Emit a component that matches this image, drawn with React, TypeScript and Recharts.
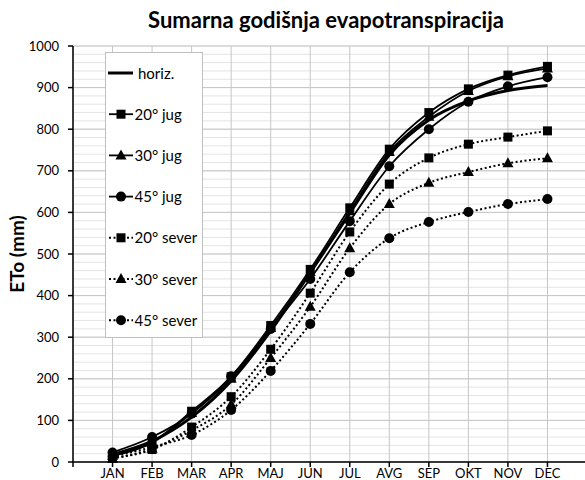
import React from 'react';
import { LineChart, Line, XAxis, YAxis, CartesianGrid } from 'recharts';

const months = ['JAN', 'FEB', 'MAR', 'APR', 'MAJ', 'JUN', 'JUL', 'AVG', 'SEP', 'OKT', 'NOV', 'DEC'];
const horiz = [18, 50, 108, 195, 315, 455, 598, 738, 822, 868, 893, 905];
const jug20 = [16, 48, 122, 205, 328, 463, 611, 752, 840, 897, 930, 951];
const jug30 = [15, 46, 118, 200, 322, 457, 603, 745, 830, 892, 927, 946];
const jug45 = [23, 60, 116, 206, 320, 440, 579, 711, 800, 866, 903, 925];
const sever20 = [10, 30, 84, 157, 271, 406, 553, 668, 731, 764, 781, 796];
const sever30 = [8, 32, 76, 138, 250, 373, 514, 620, 671, 697, 718, 730];
const sever45 = [13, 36, 65, 125, 219, 332, 456, 538, 577, 601, 620, 632];

const xTicks = [0, 1, 2, 3, 4, 5, 6, 7, 8, 9, 10, 11, 12];
const yTicks = [0, 100, 200, 300, 400, 500, 600, 700, 800, 900, 1000];
const yMinor = [0, 20, 40, 60, 80, 100, 120, 140, 160, 180, 200, 220, 240, 260, 280, 300, 320, 340, 360, 380, 400, 420, 440, 460, 480, 500, 520, 540, 560, 580, 600, 620, 640, 660, 680, 700, 720, 740, 760, 780, 800, 820, 840, 860, 880, 900, 920, 940, 960, 980, 1000];

const data = months.map((m, i) => ({
  x: i + 1,
  horiz: horiz[i],
  jug20: jug20[i],
  jug30: jug30[i],
  jug45: jug45[i],
  sever20: sever20[i],
  sever30: sever30[i],
  sever45: sever45[i],
}));

const FONT = 'Lato, "Open Sans", sans-serif';

const SquareDot = (p: any) => {
  const { cx, cy } = p;
  if (cx == null || cy == null) return null;
  return <rect key={p.key} x={cx - 4.5} y={cy - 4.5} width={9} height={9} fill="#000" />;
};
const TriDot = (p: any) => {
  const { cx, cy } = p;
  if (cx == null || cy == null) return null;
  return <polygon key={p.key} points={`${cx},${cy - 6} ${cx + 5.5},${cy + 4} ${cx - 5.5},${cy + 4}`} fill="#000" />;
};
const CircDot = (p: any) => {
  const { cx, cy } = p;
  if (cx == null || cy == null) return null;
  return <circle key={p.key} cx={cx} cy={cy} r={5} fill="#000" />;
};

const legendItems = [
  { label: 'horiz.', kind: 'none', dashed: false },
  { label: '20° jug', kind: 'square', dashed: false },
  { label: '30° jug', kind: 'tri', dashed: false },
  { label: '45° jug', kind: 'circle', dashed: false },
  { label: '20° sever', kind: 'square', dashed: true },
  { label: '30° sever', kind: 'tri', dashed: true },
  { label: '45° sever', kind: 'circle', dashed: true },
];

const LegendBox = () => (
  <div
    style={{
      position: 'absolute',
      left: 105,
      top: 52,
      width: 98,
      height: 286,
      background: '#fff',
      border: '1px solid #bfbfbf',
      boxSizing: 'border-box',
    }}
  >
    <svg width={98} height={286} style={{ position: 'absolute', left: -1, top: -1 }}>
      {legendItems.map((it, i) => {
        const cy = 21 + i * 41.2;
        const mx = 16;
        let marker: any = null;
        if (it.kind === 'square') marker = <rect x={mx - 4.5} y={cy - 4.5} width={9} height={9} fill="#000" />;
        if (it.kind === 'tri') marker = <polygon points={`${mx},${cy - 6} ${mx + 5.5},${cy + 4} ${mx - 5.5},${cy + 4}`} fill="#000" />;
        if (it.kind === 'circle') marker = <circle cx={mx} cy={cy} r={5} fill="#000" />;
        return (
          <g key={it.label}>
            <line
              x1={it.kind === 'none' ? 3 : 4}
              x2={28}
              y1={cy}
              y2={cy}
              stroke="#000"
              strokeWidth={it.kind === 'none' ? 3 : it.dashed ? 2 : 1.8}
              strokeDasharray={it.dashed ? '2 2.5' : undefined}
            />
            {marker}
            <text
              x={it.kind === 'none' ? 33 : 29.5}
              y={cy + 5.5}
              fontFamily={FONT}
              fontSize={15}
              fill="#000"
            >
              {it.label}
            </text>
          </g>
        );
      })}
    </svg>
  </div>
);

export default function App() {
  return (
    <div style={{ position: 'absolute', left: 0, top: 0, width: 585, height: 480, overflow: 'hidden', background: '#fff', fontFamily: FONT }}>
      <div
        style={{
          position: 'absolute',
          left: 0,
          top: 7,
          width: 652,
          textAlign: 'center',
          fontSize: 22,
          fontWeight: 700,
          fontFamily: FONT,
          color: '#000',
          lineHeight: '26px',
          whiteSpace: 'nowrap',
        }}
      >
        Sumarna godišnja evapotranspiracija
      </div>
      <div
        style={{
          position: 'absolute',
          left: 16,
          top: 254,
          transform: 'translate(-50%, -50%) rotate(-90deg)',
          fontSize: 19,
          fontWeight: 700,
          fontFamily: FONT,
          whiteSpace: 'nowrap',
          color: '#000',
        }}
      >
        ETo (mm)
      </div>
      <div style={{ position: 'absolute', left: 0, top: 0 }}>
        <LineChart width={587} height={480} data={data} margin={{ top: 46, right: 0, bottom: 0, left: 13 }}>
          <CartesianGrid horizontalValues={yMinor} vertical={false} stroke="#e4e4e4" strokeWidth={1} />
          <CartesianGrid horizontalValues={yTicks} verticalValues={xTicks} stroke="#c6c6c6" strokeWidth={1} />
          <XAxis
            dataKey="x"
            type="number"
            domain={[0, 13]}
            ticks={xTicks}
            tickFormatter={(v: number) => (v >= 1 ? months[v - 1] : '')}
            interval={0}
            height={18}
            tickSize={5}
            tickMargin={2}
            axisLine={{ stroke: '#000', strokeWidth: 1.5 }}
            tickLine={{ stroke: '#000', strokeWidth: 1.5 }}
            tick={{ fill: '#000', fontSize: 13, fontFamily: FONT }}
          />
          <YAxis
            type="number"
            domain={[0, 1000]}
            ticks={yTicks}
            interval={0}
            width={60}
            tickSize={5}
            tickMargin={9}
            axisLine={{ stroke: '#000', strokeWidth: 1.5 }}
            tickLine={{ stroke: '#000', strokeWidth: 1.5 }}
            tick={{ fill: '#000', fontSize: 13, fontFamily: FONT }}
          />
          <Line dataKey="sever45" type="monotone" stroke="#000" strokeWidth={2} strokeDasharray="2 2.5" dot={CircDot} isAnimationActive={false} />
          <Line dataKey="sever30" type="monotone" stroke="#000" strokeWidth={2} strokeDasharray="2 2.5" dot={TriDot} isAnimationActive={false} />
          <Line dataKey="sever20" type="monotone" stroke="#000" strokeWidth={2} strokeDasharray="2 2.5" dot={SquareDot} isAnimationActive={false} />
          <Line dataKey="jug45" type="monotone" stroke="#000" strokeWidth={1.8} dot={CircDot} isAnimationActive={false} />
          <Line dataKey="jug30" type="monotone" stroke="#000" strokeWidth={1.8} dot={TriDot} isAnimationActive={false} />
          <Line dataKey="jug20" type="monotone" stroke="#000" strokeWidth={1.8} dot={SquareDot} isAnimationActive={false} />
          <Line dataKey="horiz" type="monotone" stroke="#000" strokeWidth={3} dot={false} isAnimationActive={false} />
        </LineChart>
      </div>
      <LegendBox />
    </div>
  );
}
